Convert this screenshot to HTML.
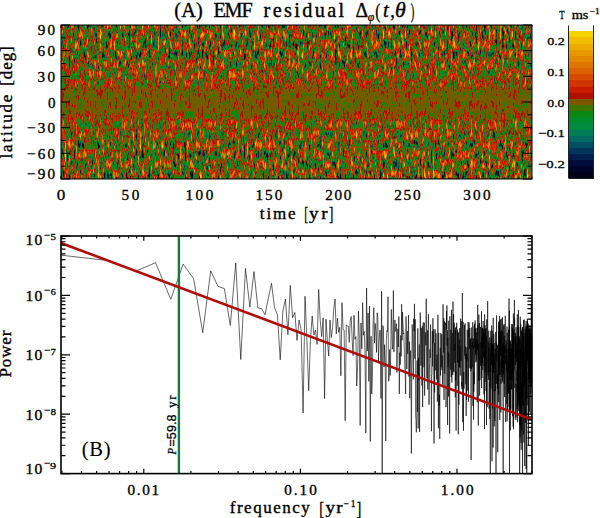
<!DOCTYPE html><html><head><meta charset="utf-8"><style>html,body{margin:0;padding:0;background:#fff;width:600px;height:518px;overflow:hidden}svg{display:block}text{font-family:"Liberation Serif",serif;fill:#000;stroke:#000}</style></head><body>
<svg width="600" height="518" viewBox="0 0 600 518">
<defs>
<linearGradient id="env" x1="0" y1="0" x2="0" y2="1"><stop offset="0.0000" stop-color="rgb(255,127,0)"/><stop offset="0.0111" stop-color="rgb(255,127,0)"/><stop offset="0.0222" stop-color="rgb(255,127,0)"/><stop offset="0.0333" stop-color="rgb(255,127,0)"/><stop offset="0.0444" stop-color="rgb(255,127,0)"/><stop offset="0.0556" stop-color="rgb(255,127,0)"/><stop offset="0.0667" stop-color="rgb(255,127,0)"/><stop offset="0.0778" stop-color="rgb(255,127,0)"/><stop offset="0.0889" stop-color="rgb(255,127,0)"/><stop offset="0.1000" stop-color="rgb(255,127,0)"/><stop offset="0.1111" stop-color="rgb(255,127,0)"/><stop offset="0.1222" stop-color="rgb(255,127,0)"/><stop offset="0.1333" stop-color="rgb(255,127,0)"/><stop offset="0.1444" stop-color="rgb(255,127,0)"/><stop offset="0.1556" stop-color="rgb(255,127,0)"/><stop offset="0.1667" stop-color="rgb(255,127,0)"/><stop offset="0.1778" stop-color="rgb(254,127,0)"/><stop offset="0.1889" stop-color="rgb(252,127,0)"/><stop offset="0.2000" stop-color="rgb(249,127,0)"/><stop offset="0.2111" stop-color="rgb(245,127,0)"/><stop offset="0.2222" stop-color="rgb(240,127,0)"/><stop offset="0.2333" stop-color="rgb(235,127,0)"/><stop offset="0.2444" stop-color="rgb(229,128,0)"/><stop offset="0.2556" stop-color="rgb(222,129,0)"/><stop offset="0.2667" stop-color="rgb(216,130,0)"/><stop offset="0.2778" stop-color="rgb(210,131,0)"/><stop offset="0.2889" stop-color="rgb(204,132,0)"/><stop offset="0.3000" stop-color="rgb(198,133,0)"/><stop offset="0.3111" stop-color="rgb(194,134,0)"/><stop offset="0.3222" stop-color="rgb(189,135,0)"/><stop offset="0.3333" stop-color="rgb(186,135,0)"/><stop offset="0.3444" stop-color="rgb(184,135,0)"/><stop offset="0.3556" stop-color="rgb(184,135,0)"/><stop offset="0.3667" stop-color="rgb(178,135,0)"/><stop offset="0.3778" stop-color="rgb(163,135,0)"/><stop offset="0.3889" stop-color="rgb(142,135,0)"/><stop offset="0.4000" stop-color="rgb(117,134,0)"/><stop offset="0.4111" stop-color="rgb(93,133,0)"/><stop offset="0.4222" stop-color="rgb(72,131,0)"/><stop offset="0.4333" stop-color="rgb(57,129,0)"/><stop offset="0.4444" stop-color="rgb(51,128,0)"/><stop offset="0.4556" stop-color="rgb(51,128,0)"/><stop offset="0.4667" stop-color="rgb(51,128,0)"/><stop offset="0.4778" stop-color="rgb(51,128,0)"/><stop offset="0.4889" stop-color="rgb(51,128,0)"/><stop offset="0.5000" stop-color="rgb(51,128,0)"/><stop offset="0.5111" stop-color="rgb(51,128,0)"/><stop offset="0.5222" stop-color="rgb(51,128,0)"/><stop offset="0.5333" stop-color="rgb(51,128,0)"/><stop offset="0.5444" stop-color="rgb(51,128,0)"/><stop offset="0.5556" stop-color="rgb(51,128,0)"/><stop offset="0.5667" stop-color="rgb(57,129,0)"/><stop offset="0.5778" stop-color="rgb(72,131,0)"/><stop offset="0.5889" stop-color="rgb(93,133,0)"/><stop offset="0.6000" stop-color="rgb(117,134,0)"/><stop offset="0.6111" stop-color="rgb(142,135,0)"/><stop offset="0.6222" stop-color="rgb(163,135,0)"/><stop offset="0.6333" stop-color="rgb(178,135,0)"/><stop offset="0.6444" stop-color="rgb(184,135,0)"/><stop offset="0.6556" stop-color="rgb(184,135,0)"/><stop offset="0.6667" stop-color="rgb(186,135,0)"/><stop offset="0.6778" stop-color="rgb(189,135,0)"/><stop offset="0.6889" stop-color="rgb(194,134,0)"/><stop offset="0.7000" stop-color="rgb(198,133,0)"/><stop offset="0.7111" stop-color="rgb(204,132,0)"/><stop offset="0.7222" stop-color="rgb(210,131,0)"/><stop offset="0.7333" stop-color="rgb(216,130,0)"/><stop offset="0.7444" stop-color="rgb(222,129,0)"/><stop offset="0.7556" stop-color="rgb(229,128,0)"/><stop offset="0.7667" stop-color="rgb(235,127,0)"/><stop offset="0.7778" stop-color="rgb(240,127,0)"/><stop offset="0.7889" stop-color="rgb(245,127,0)"/><stop offset="0.8000" stop-color="rgb(249,127,0)"/><stop offset="0.8111" stop-color="rgb(252,127,0)"/><stop offset="0.8222" stop-color="rgb(254,127,0)"/><stop offset="0.8333" stop-color="rgb(255,127,0)"/><stop offset="0.8444" stop-color="rgb(255,127,0)"/><stop offset="0.8556" stop-color="rgb(255,127,0)"/><stop offset="0.8667" stop-color="rgb(255,127,0)"/><stop offset="0.8778" stop-color="rgb(255,127,0)"/><stop offset="0.8889" stop-color="rgb(255,127,0)"/><stop offset="0.9000" stop-color="rgb(255,127,0)"/><stop offset="0.9111" stop-color="rgb(255,127,0)"/><stop offset="0.9222" stop-color="rgb(255,127,0)"/><stop offset="0.9333" stop-color="rgb(255,127,0)"/><stop offset="0.9444" stop-color="rgb(255,127,0)"/><stop offset="0.9556" stop-color="rgb(255,127,0)"/><stop offset="0.9667" stop-color="rgb(255,127,0)"/><stop offset="0.9778" stop-color="rgb(255,127,0)"/><stop offset="0.9889" stop-color="rgb(255,127,0)"/><stop offset="1.0000" stop-color="rgb(255,127,0)"/></linearGradient>
<filter id="hm" x="0" y="0" width="1" height="1" color-interpolation-filters="sRGB">
<feTurbulence type="fractalNoise" baseFrequency="0.45 0.1" numOctaves="2" seed="11" result="n"/>
<feColorMatrix in="n" type="matrix" values="1 0 0 0 0 1 0 0 0 0 1 0 0 0 0 0 0 0 0 1" result="g"/>
<feComponentTransfer in="g" result="s"><feFuncR type="table" tableValues="0.0000 0.0000 0.0000 0.0000 0.0000 0.0000 0.0000 0.0000 0.0000 0.0148 0.0359 0.0570 0.0781 0.0992 0.1203 0.1414 0.1625 0.1836 0.2047 0.2258 0.2469 0.2680 0.2891 0.3102 0.3312 0.3523 0.3734 0.3945 0.4156 0.4367 0.4578 0.4789 0.5000 0.5211 0.5422 0.5633 0.5844 0.6055 0.6266 0.6477 0.6687 0.6898 0.7109 0.7320 0.7531 0.7742 0.7953 0.8164 0.8375 0.8586 0.8797 0.9008 0.9219 0.9430 0.9641 0.9852 1.0000 1.0000 1.0000 1.0000 1.0000 1.0000 1.0000 1.0000 1.0000"/><feFuncG type="table" tableValues="0.0000 0.0000 0.0000 0.0000 0.0000 0.0000 0.0000 0.0000 0.0000 0.0148 0.0359 0.0570 0.0781 0.0992 0.1203 0.1414 0.1625 0.1836 0.2047 0.2258 0.2469 0.2680 0.2891 0.3102 0.3312 0.3523 0.3734 0.3945 0.4156 0.4367 0.4578 0.4789 0.5000 0.5211 0.5422 0.5633 0.5844 0.6055 0.6266 0.6477 0.6687 0.6898 0.7109 0.7320 0.7531 0.7742 0.7953 0.8164 0.8375 0.8586 0.8797 0.9008 0.9219 0.9430 0.9641 0.9852 1.0000 1.0000 1.0000 1.0000 1.0000 1.0000 1.0000 1.0000 1.0000"/><feFuncB type="table" tableValues="0.0000 0.0000 0.0000 0.0000 0.0000 0.0000 0.0000 0.0000 0.0000 0.0148 0.0359 0.0570 0.0781 0.0992 0.1203 0.1414 0.1625 0.1836 0.2047 0.2258 0.2469 0.2680 0.2891 0.3102 0.3312 0.3523 0.3734 0.3945 0.4156 0.4367 0.4578 0.4789 0.5000 0.5211 0.5422 0.5633 0.5844 0.6055 0.6266 0.6477 0.6687 0.6898 0.7109 0.7320 0.7531 0.7742 0.7953 0.8164 0.8375 0.8586 0.8797 0.9008 0.9219 0.9430 0.9641 0.9852 1.0000 1.0000 1.0000 1.0000 1.0000 1.0000 1.0000 1.0000 1.0000"/></feComponentTransfer>
<feColorMatrix in="SourceGraphic" type="matrix" values="1 0 0 0 0 1 0 0 0 0 1 0 0 0 0 0 0 0 0 1" result="amp"/>
<feColorMatrix in="SourceGraphic" type="matrix" values="0 1 0 0 0 0 1 0 0 0 0 1 0 0 0 0 0 0 0 1" result="mo"/>
<feComposite in="s" in2="amp" operator="arithmetic" k1="1" k2="0" k3="-0.5" k4="0.5" result="m0"/>
<feComposite in="m0" in2="mo" operator="arithmetic" k1="0" k2="1" k3="1" k4="-0.5" result="m"/>
<feComponentTransfer in="m"><feFuncR type="discrete" tableValues="0.0000 0.0000 0.0000 0.0000 0.0000 0.0000 0.0000 0.0000 0.0000 0.0588 0.0392 0.4235 0.4784 0.6863 0.7843 0.8157 0.8392 0.8588 0.8784 0.8941 0.9098 0.9255 0.9451 0.9647"/><feFuncG type="discrete" tableValues="0.0000 0.0196 0.0471 0.0863 0.1373 0.2275 0.3529 0.4706 0.5412 0.5490 0.5333 0.3765 0.3451 0.0627 0.1020 0.2039 0.2980 0.3765 0.4549 0.5294 0.6000 0.6667 0.7451 0.8235"/><feFuncB type="discrete" tableValues="0.0588 0.0980 0.1373 0.1765 0.2157 0.2431 0.2549 0.2353 0.1765 0.1373 0.0588 0.0000 0.0000 0.0000 0.0000 0.0000 0.0000 0.0000 0.0000 0.0000 0.0000 0.0000 0.0000 0.0000"/></feComponentTransfer>
<feGaussianBlur stdDeviation="0.6"/>
</filter>
<clipPath id="pc"><rect x="61" y="236" width="471" height="237.60000000000002"/></clipPath>
</defs>
<rect x="61" y="25" width="471" height="154" fill="#5a5a1e"/>
<rect x="61" y="25" width="471" height="154" fill="url(#env)" filter="url(#hm)"/>
<rect x="61" y="25" width="471" height="154" fill="none" stroke="#000" stroke-width="1"/>
<path d="M61 179.00h9M532 179.00h-9M61 166.17h4.5M532 166.17h-4.5M61 153.33h9M532 153.33h-9M61 140.50h4.5M532 140.50h-4.5M61 127.67h9M532 127.67h-9M61 114.83h4.5M532 114.83h-4.5M61 102.00h9M532 102.00h-9M61 89.17h4.5M532 89.17h-4.5M61 76.33h9M532 76.33h-9M61 63.50h4.5M532 63.50h-4.5M61 50.67h9M532 50.67h-9M61 37.83h4.5M532 37.83h-4.5M61 25.00h9M532 25.00h-9M61.00 179v-3M61.00 25v3M74.85 179v-1.5M74.85 25v1.5M88.71 179v-1.5M88.71 25v1.5M102.56 179v-1.5M102.56 25v1.5M116.41 179v-1.5M116.41 25v1.5M130.26 179v-3M130.26 25v3M144.12 179v-1.5M144.12 25v1.5M157.97 179v-1.5M157.97 25v1.5M171.82 179v-1.5M171.82 25v1.5M185.68 179v-1.5M185.68 25v1.5M199.53 179v-3M199.53 25v3M213.38 179v-1.5M213.38 25v1.5M227.24 179v-1.5M227.24 25v1.5M241.09 179v-1.5M241.09 25v1.5M254.94 179v-1.5M254.94 25v1.5M268.79 179v-3M268.79 25v3M282.65 179v-1.5M282.65 25v1.5M296.50 179v-1.5M296.50 25v1.5M310.35 179v-1.5M310.35 25v1.5M324.21 179v-1.5M324.21 25v1.5M338.06 179v-3M338.06 25v3M351.91 179v-1.5M351.91 25v1.5M365.76 179v-1.5M365.76 25v1.5M379.62 179v-1.5M379.62 25v1.5M393.47 179v-1.5M393.47 25v1.5M407.32 179v-3M407.32 25v3M421.18 179v-1.5M421.18 25v1.5M435.03 179v-1.5M435.03 25v1.5M448.88 179v-1.5M448.88 25v1.5M462.74 179v-1.5M462.74 25v1.5M476.59 179v-3M476.59 25v3M490.44 179v-1.5M490.44 25v1.5M504.29 179v-1.5M504.29 25v1.5M518.15 179v-1.5M518.15 25v1.5M532.00 179v-1.5M532.00 25v1.5" stroke="#000" stroke-width="1" fill="none"/>
<rect x="568.5" y="172.16" width="25.0" height="6.44" fill="#000019" shape-rendering="crispEdges"/>
<rect x="568.5" y="166.03" width="25.0" height="6.44" fill="#00032a" shape-rendering="crispEdges"/>
<rect x="568.5" y="159.89" width="25.0" height="6.44" fill="#000c3c" shape-rendering="crispEdges"/>
<rect x="568.5" y="153.75" width="25.0" height="6.44" fill="#001e4b" shape-rendering="crispEdges"/>
<rect x="568.5" y="147.61" width="25.0" height="6.44" fill="#003458" shape-rendering="crispEdges"/>
<rect x="568.5" y="141.48" width="25.0" height="6.44" fill="#004e60" shape-rendering="crispEdges"/>
<rect x="568.5" y="135.34" width="25.0" height="6.44" fill="#006962" shape-rendering="crispEdges"/>
<rect x="568.5" y="129.20" width="25.0" height="6.44" fill="#007e5a" shape-rendering="crispEdges"/>
<rect x="568.5" y="123.06" width="25.0" height="6.44" fill="#008a44" shape-rendering="crispEdges"/>
<rect x="568.5" y="116.93" width="25.0" height="6.44" fill="#008c2d" shape-rendering="crispEdges"/>
<rect x="568.5" y="110.79" width="25.0" height="6.44" fill="#0a880f" shape-rendering="crispEdges"/>
<rect x="568.5" y="104.65" width="25.0" height="6.44" fill="#3c7600" shape-rendering="crispEdges"/>
<rect x="568.5" y="98.51" width="25.0" height="6.44" fill="#7a5800" shape-rendering="crispEdges"/>
<rect x="568.5" y="92.38" width="25.0" height="6.44" fill="#af1000" shape-rendering="crispEdges"/>
<rect x="568.5" y="86.24" width="25.0" height="6.44" fill="#c81a00" shape-rendering="crispEdges"/>
<rect x="568.5" y="80.10" width="25.0" height="6.44" fill="#d03400" shape-rendering="crispEdges"/>
<rect x="568.5" y="73.96" width="25.0" height="6.44" fill="#d64c00" shape-rendering="crispEdges"/>
<rect x="568.5" y="67.83" width="25.0" height="6.44" fill="#db6000" shape-rendering="crispEdges"/>
<rect x="568.5" y="61.69" width="25.0" height="6.44" fill="#e07400" shape-rendering="crispEdges"/>
<rect x="568.5" y="55.55" width="25.0" height="6.44" fill="#e48700" shape-rendering="crispEdges"/>
<rect x="568.5" y="49.41" width="25.0" height="6.44" fill="#e89900" shape-rendering="crispEdges"/>
<rect x="568.5" y="43.28" width="25.0" height="6.44" fill="#ecaa00" shape-rendering="crispEdges"/>
<rect x="568.5" y="37.14" width="25.0" height="6.44" fill="#f1be00" shape-rendering="crispEdges"/>
<rect x="568.5" y="31.00" width="25.0" height="6.44" fill="#f6d200" shape-rendering="crispEdges"/>
<path d="M568.5 25.5V178.3H593.5V25.5" stroke="#222" stroke-width="1" fill="none"/>
<g clip-path="url(#pc)"><path d="M61.30 255.20 L108.44 260.60 L136.02 271.00 L155.58 262.70 L170.76 299.30 L183.16 264.10 L193.64 278.70 L202.72 332.70 L210.73 270.80 L217.90 286.30 L224.38 288.60 L230.30 325.50 L235.74 263.10 L240.78 359.50 L245.48 268.50 L249.87 307.10 L253.99 271.60 L257.88 307.90 L261.55 308.70 L265.04 314.80 L268.36 298.00 L271.52 283.30 L274.55 307.70 L277.44 315.00 L280.22 359.80 L282.88 311.00 L285.45 299.00 L287.92 334.70 L290.31 285.40 L292.62 317.80 L294.85 312.40 L297.01 340.50 L299.10 320.00 L301.13 330.00 L303.10 413.00 L305.02 296.20 L306.88 340.00 L308.69 390.70 L310.46 340.00 L312.18 316.00 L313.86 335.00 L315.50 330.00 L317.10 344.40 L318.66 289.50 L320.19 320.00 L321.69 336.70 L323.15 317.80 L324.58 398.50 L325.98 319.30 L327.36 340.00 L328.71 356.00 L330.03 320.00 L331.32 337.60 L332.59 327.53 L333.84 308.08 L335.07 298.99 L336.27 333.84 L337.45 318.25 L338.62 332.37 L339.76 327.36 L340.88 375.78 L341.99 302.61 L343.08 329.62 L344.15 330.12 L345.20 420.73 L346.24 325.05 L347.26 325.84 L348.27 326.00 L349.26 342.38 L350.24 320.04 L351.21 316.55 L352.16 339.57 L353.10 355.65 L354.02 315.17 L354.93 339.28 L355.84 336.63 L356.72 386.03 L357.60 365.88 L358.47 311.30 L359.32 338.16 L360.17 425.51 L361.00 323.01 L361.83 348.79 L362.64 302.71 L363.45 335.22 L364.24 331.57 L365.03 352.65 L365.81 433.00 L366.57 287.99 L367.33 351.08 L368.09 312.95 L368.83 381.28 L369.56 305.98 L370.29 441.54 L371.01 336.21 L371.72 394.02 L372.43 375.95 L373.13 320.68 L373.82 307.66 L374.50 342.93 L375.18 323.38 L375.85 331.12 L376.51 352.40 L377.17 312.71 L377.82 317.82 L378.46 361.36 L379.10 342.05 L379.73 330.30 L380.36 330.42 L380.98 398.42 L381.60 291.23 L382.21 474.50 L382.81 325.63 L383.41 328.06 L384.01 367.03 L384.59 344.70 L385.18 360.29 L385.76 441.09 L386.33 340.53 L386.90 330.41 L387.46 331.62 L388.02 296.72 L388.58 381.32 L389.13 378.22 L389.68 349.43 L390.22 375.57 L390.76 351.04 L391.29 309.33 L391.82 328.31 L392.34 349.24 L392.86 343.56 L393.38 290.59 L393.90 351.83 L394.40 333.15 L394.91 320.09 L395.41 330.76 L395.91 331.60 L396.41 323.69 L396.90 372.53 L397.38 349.72 L397.87 328.73 L398.35 346.98 L398.83 316.55 L399.30 393.89 L399.77 352.68 L400.24 364.62 L400.70 335.38 L401.16 356.35 L401.62 304.29 L402.08 340.23 L402.53 312.14 L402.98 324.03 L403.42 334.02 L403.87 332.74 L404.31 351.29 L404.74 366.95 L405.18 372.41 L405.61 394.06 L406.04 316.43 L406.47 349.85 L406.89 369.04 L407.31 331.02 L407.73 353.83 L408.14 340.48 L408.56 315.16 L408.97 376.58 L409.38 341.75 L409.78 398.21 L410.19 361.59 L410.59 350.58 L410.99 372.15 L411.38 453.43 L411.78 366.50 L412.17 324.47 L412.56 332.35 L412.95 354.36 L413.33 379.35 L413.72 318.72 L414.10 331.22 L414.48 303.88 L414.85 358.78 L415.23 319.24 L415.60 414.98 L415.97 420.78 L416.34 432.32 L416.71 414.90 L417.07 360.49 L417.43 411.80 L417.79 328.33 L418.15 428.47 L418.51 357.73 L418.86 379.85 L419.22 344.28 L419.57 431.87 L419.92 355.29 L420.27 312.57 L420.61 337.04 L420.96 365.61 L421.30 327.95 L421.64 349.14 L421.98 385.64 L422.32 325.94 L422.65 407.19 L422.99 328.00 L423.32 322.45 L423.65 340.50 L423.98 367.32 L424.31 322.65 L424.63 395.55 L424.96 361.22 L425.28 332.37 L425.60 341.09 L425.92 345.21 L426.24 298.75 L426.56 347.29 L426.88 378.00 L427.19 352.37 L427.50 330.40 L427.81 389.58 L428.12 330.30 L428.43 314.22 L428.74 345.31 L429.04 404.81 L429.35 373.48 L429.65 362.53 L429.95 349.29 L430.25 357.92 L430.55 324.59 L430.85 342.16 L431.15 375.59 L431.44 431.26 L431.74 375.01 L432.03 374.76 L432.32 331.02 L432.61 366.39 L432.90 318.21 L433.19 343.22 L433.47 337.39 L433.76 329.21 L434.04 443.49 L434.32 343.17 L434.61 392.33 L434.89 344.26 L435.17 329.40 L435.44 357.19 L435.72 370.36 L436.00 333.35 L436.27 356.30 L436.54 379.44 L436.82 362.23 L437.09 354.69 L437.36 401.67 L437.63 344.13 L437.90 314.82 L438.16 360.78 L438.43 428.15 L438.70 332.89 L438.96 380.07 L439.22 405.96 L439.48 394.78 L439.75 438.76 L440.01 361.46 L440.27 347.70 L440.52 375.53 L440.78 333.13 L441.04 347.46 L441.29 367.35 L441.55 351.13 L441.80 334.23 L442.05 370.14 L442.30 355.60 L442.55 384.48 L442.80 371.62 L443.05 304.23 L443.30 345.72 L443.55 352.58 L443.79 318.13 L444.04 399.94 L444.28 326.39 L444.52 321.44 L444.77 373.67 L445.01 333.64 L445.25 325.34 L445.49 322.73 L445.73 341.12 L445.97 407.18 L446.20 400.28 L446.44 311.11 L446.68 329.42 L446.91 305.54 L447.15 345.82 L447.38 330.27 L447.61 425.02 L447.84 337.71 L448.07 367.06 L448.30 352.25 L448.53 396.58 L448.76 320.72 L448.99 349.52 L449.22 355.85 L449.44 355.17 L449.67 433.63 L449.89 316.25 L450.12 356.19 L450.34 368.33 L450.56 369.62 L450.79 329.64 L451.01 359.01 L451.23 377.03 L451.45 309.79 L451.67 355.45 L451.88 382.52 L452.10 334.82 L452.32 333.01 L452.54 360.87 L452.75 374.91 L452.97 301.60 L453.18 371.63 L453.39 363.80 L453.61 314.25 L453.82 365.73 L454.03 372.25 L454.24 322.82 L454.45 351.07 L454.66 343.79 L454.87 362.79 L455.08 329.95 L455.29 397.39 L455.49 327.63 L455.70 379.99 L455.91 370.92 L456.11 430.55 L456.31 326.71 L456.52 328.94 L456.72 322.69 L456.92 371.64 L457.13 385.99 L457.33 329.33 L457.53 362.27 L457.73 331.12 L457.93 362.35 L458.13 360.42 L458.33 434.31 L458.53 332.53 L458.72 369.10 L458.92 404.80 L459.12 339.56 L459.31 354.62 L459.51 367.01 L459.70 328.12 L459.90 367.85 L460.09 346.10 L460.28 375.64 L460.47 336.55 L460.67 318.55 L460.86 334.16 L461.05 361.06 L461.24 321.10 L461.43 343.15 L461.62 386.46 L461.81 382.07 L461.99 389.24 L462.18 331.42 L462.37 293.04 L462.56 330.17 L462.74 422.19 L462.93 348.88 L463.11 322.10 L463.30 355.73 L463.48 430.69 L463.66 372.58 L463.85 371.87 L464.03 388.71 L464.21 373.92 L464.39 324.90 L464.57 338.96 L464.76 355.46 L464.94 325.87 L465.11 323.52 L465.29 358.72 L465.47 346.38 L465.65 370.45 L465.83 384.21 L466.01 354.54 L466.18 416.03 L466.36 353.85 L466.54 400.03 L466.71 357.60 L466.89 347.33 L467.06 361.07 L467.23 329.73 L467.41 358.60 L467.58 357.52 L467.75 390.70 L467.93 347.98 L468.10 322.16 L468.27 324.70 L468.44 401.77 L468.61 330.08 L468.78 337.06 L468.95 327.68 L469.12 322.25 L469.29 342.52 L469.46 348.82 L469.63 327.82 L469.80 336.50 L469.96 368.28 L470.13 338.40 L470.30 367.51 L470.46 339.86 L470.63 355.94 L470.79 371.26 L470.96 366.88 L471.12 460.02 L471.29 327.55 L471.45 356.81 L471.61 368.92 L471.78 356.43 L471.94 337.65 L472.10 351.78 L472.26 367.33 L472.42 341.74 L472.58 346.31 L472.75 322.22 L472.91 405.88 L473.07 345.51 L473.23 348.83 L473.38 338.77 L473.54 419.69 L473.70 371.82 L473.86 391.80 L474.02 362.59 L474.17 325.81 L474.33 384.11 L474.49 340.68 L474.64 323.67 L474.80 345.99 L474.95 348.05 L475.11 320.39 L475.26 331.09 L475.42 354.45 L475.57 328.50 L475.73 355.04 L475.88 362.34 L476.03 343.06 L476.19 332.52 L476.34 361.27 L476.49 339.15 L476.64 349.49 L476.79 354.98 L476.94 327.92 L477.09 383.87 L477.24 402.22 L477.39 340.46 L477.54 350.08 L477.69 304.84 L477.84 345.92 L477.99 324.81 L478.14 356.21 L478.29 425.53 L478.44 343.65 L478.58 381.06 L478.73 361.89 L478.88 314.66 L479.02 358.68 L479.17 357.58 L479.32 360.27 L479.46 322.94 L479.61 395.60 L479.75 360.22 L479.90 380.18 L480.04 366.75 L480.18 342.25 L480.33 359.66 L480.47 326.86 L480.61 339.90 L480.76 365.87 L480.90 359.72 L481.04 364.56 L481.18 349.38 L481.32 332.97 L481.47 311.32 L481.61 388.00 L481.75 335.95 L481.89 377.98 L482.03 328.41 L482.17 341.58 L482.31 363.02 L482.45 348.72 L482.58 328.10 L482.72 369.92 L482.86 327.67 L483.00 347.93 L483.14 321.01 L483.28 332.66 L483.41 346.30 L483.55 357.68 L483.69 331.85 L483.82 329.43 L483.96 394.35 L484.09 332.86 L484.23 365.84 L484.37 350.62 L484.50 429.10 L484.64 314.30 L484.77 358.14 L484.90 344.41 L485.04 325.17 L485.17 349.77 L485.31 370.99 L485.44 372.46 L485.57 329.26 L485.70 369.50 L485.84 381.98 L485.97 328.02 L486.10 391.15 L486.23 336.19 L486.36 371.85 L486.50 424.97 L486.63 326.19 L486.76 319.37 L486.89 332.32 L487.02 360.91 L487.15 407.18 L487.28 376.43 L487.41 361.44 L487.54 330.35 L487.66 301.07 L487.79 367.68 L487.92 371.03 L488.05 375.34 L488.18 341.42 L488.31 362.55 L488.43 379.78 L488.56 369.43 L488.69 330.66 L488.81 372.02 L488.94 347.73 L489.07 408.67 L489.19 393.53 L489.32 387.16 L489.44 382.90 L489.57 386.11 L489.69 337.52 L489.82 418.96 L489.94 398.91 L490.07 366.94 L490.19 343.09 L490.32 472.96 L490.44 352.90 L490.56 364.50 L490.69 372.06 L490.81 330.66 L490.93 388.53 L491.06 363.58 L491.18 365.11 L491.30 342.64 L491.42 337.85 L491.54 365.10 L491.67 325.40 L491.79 338.31 L491.91 376.69 L492.03 461.15 L492.15 330.75 L492.27 335.76 L492.39 346.32 L492.51 408.57 L492.63 344.16 L492.75 364.24 L492.87 391.40 L492.99 345.97 L493.11 447.46 L493.23 317.83 L493.35 347.29 L493.46 361.07 L493.58 370.09 L493.70 373.05 L493.82 334.21 L493.94 341.25 L494.05 368.80 L494.17 343.01 L494.29 426.39 L494.40 360.69 L494.52 364.46 L494.64 353.59 L494.75 371.87 L494.87 421.03 L494.98 390.46 L495.10 386.94 L495.22 348.89 L495.33 387.22 L495.45 391.05 L495.56 344.64 L495.67 331.92 L495.79 338.90 L495.90 384.72 L496.02 497.33 L496.13 351.86 L496.25 341.91 L496.36 383.93 L496.47 342.24 L496.58 315.40 L496.70 360.99 L496.81 355.85 L496.92 344.28 L497.04 348.01 L497.15 347.49 L497.26 379.80 L497.37 378.26 L497.48 388.75 L497.59 373.96 L497.71 452.18 L497.82 344.97 L497.93 367.47 L498.04 380.71 L498.15 350.54 L498.26 368.34 L498.37 402.10 L498.48 355.80 L498.59 321.73 L498.70 394.55 L498.81 332.29 L498.92 358.84 L499.03 365.51 L499.13 352.59 L499.24 325.67 L499.35 335.61 L499.46 374.98 L499.57 316.13 L499.68 329.74 L499.78 419.97 L499.89 320.26 L500.00 352.76 L500.11 375.16 L500.21 319.34 L500.32 350.93 L500.43 331.74 L500.53 355.86 L500.64 337.29 L500.75 349.41 L500.85 412.52 L500.96 378.70 L501.07 383.73 L501.17 358.48 L501.28 372.92 L501.38 377.22 L501.49 330.34 L501.59 373.07 L501.70 320.41 L501.80 318.72 L501.91 351.77 L502.01 367.14 L502.12 362.20 L502.22 380.00 L502.32 371.05 L502.43 317.24 L502.53 364.72 L502.63 342.58 L502.74 382.23 L502.84 356.85 L502.94 331.84 L503.05 345.23 L503.15 507.63 L503.25 362.02 L503.35 369.19 L503.46 343.68 L503.56 374.50 L503.66 354.17 L503.76 325.47 L503.86 357.78 L503.96 369.33 L504.07 324.02 L504.17 361.15 L504.27 383.91 L504.37 335.93 L504.47 380.89 L504.57 397.08 L504.67 354.43 L504.77 348.43 L504.87 351.36 L504.97 346.30 L505.07 352.94 L505.17 343.61 L505.27 315.85 L505.37 352.21 L505.47 363.85 L505.57 355.27 L505.67 422.07 L505.77 363.22 L505.86 344.34 L505.96 357.18 L506.06 340.44 L506.16 348.09 L506.26 361.01 L506.35 357.83 L506.45 370.96 L506.55 349.65 L506.65 368.33 L506.75 404.20 L506.84 333.87 L506.94 328.44 L507.04 326.57 L507.13 421.26 L507.23 332.93 L507.33 346.44 L507.42 391.92 L507.52 371.00 L507.62 368.72 L507.71 412.14 L507.81 360.70 L507.90 369.72 L508.00 369.51 L508.09 348.63 L508.19 393.87 L508.28 384.86 L508.38 377.83 L508.47 368.66 L508.57 329.78 L508.66 349.69 L508.76 392.79 L508.85 345.64 L508.95 341.83 L509.04 298.52 L509.14 406.84 L509.23 341.15 L509.32 352.37 L509.42 310.87 L509.51 510.76 L509.60 326.61 L509.70 379.09 L509.79 342.73 L509.88 357.25 L509.98 353.77 L510.07 385.41 L510.16 410.23 L510.25 383.49 L510.35 430.30 L510.44 340.74 L510.53 379.94 L510.62 348.04 L510.71 355.26 L510.81 380.22 L510.90 373.53 L510.99 409.61 L511.08 344.06 L511.17 362.27 L511.26 389.43 L511.35 379.18 L511.44 370.44 L511.53 359.57 L511.63 361.55 L511.72 323.93 L511.81 389.11 L511.90 348.94 L511.99 357.39 L512.08 373.97 L512.17 341.37 L512.26 333.78 L512.35 324.29 L512.44 375.55 L512.52 327.95 L512.61 367.58 L512.70 416.15 L512.79 330.20 L512.88 335.46 L512.97 381.23 L513.06 353.10 L513.15 426.70 L513.24 360.27 L513.32 340.65 L513.41 313.50 L513.50 429.31 L513.59 332.47 L513.68 343.52 L513.76 418.75 L513.85 346.17 L513.94 360.55 L514.03 370.32 L514.11 329.28 L514.20 345.28 L514.29 335.35 L514.38 299.85 L514.46 325.34 L514.55 325.14 L514.64 318.39 L514.72 330.72 L514.81 387.83 L514.90 355.15 L514.98 356.32 L515.07 354.76 L515.15 336.33 L515.24 348.97 L515.33 357.80 L515.41 332.90 L515.50 364.90 L515.58 353.96 L515.67 352.95 L515.75 350.58 L515.84 420.04 L515.92 383.96 L516.01 417.67 L516.09 327.08 L516.18 356.19 L516.26 342.72 L516.35 352.83 L516.43 359.41 L516.52 362.01 L516.60 360.42 L516.68 344.57 L516.77 335.77 L516.85 380.62 L516.94 370.16 L517.02 392.46 L517.10 378.11 L517.19 409.15 L517.27 323.18 L517.35 314.36 L517.44 367.37 L517.52 344.37 L517.60 422.19 L517.69 352.30 L517.77 325.49 L517.85 390.33 L517.93 406.39 L518.02 353.83 L518.10 339.16 L518.18 399.62 L518.26 364.68 L518.35 411.03 L518.43 309.85 L518.51 400.42 L518.59 374.52 L518.67 394.94 L518.75 327.13 L518.84 357.04 L518.92 362.80 L519.00 337.51 L519.08 341.54 L519.16 403.39 L519.24 355.75 L519.32 336.17 L519.40 368.36 L519.48 360.54 L519.57 422.58 L519.65 490.85 L519.73 420.63 L519.81 387.30 L519.89 424.85 L519.97 346.77 L520.05 339.78 L520.13 397.08 L520.21 437.30 L520.29 316.80 L520.37 333.92 L520.45 414.90 L520.53 348.52 L520.60 424.53 L520.68 364.96 L520.76 324.15 L520.84 352.82 L520.92 371.63 L521.00 442.84 L521.08 389.39 L521.16 449.76 L521.24 423.48 L521.32 381.87 L521.39 430.27 L521.47 393.71 L521.55 330.97 L521.63 353.09 L521.71 347.93 L521.78 391.47 L521.86 370.74 L521.94 344.10 L522.02 364.33 L522.10 329.42 L522.17 398.14 L522.25 390.19 L522.33 362.10 L522.41 326.95 L522.48 353.32 L522.56 495.52 L522.64 342.26 L522.71 405.39 L522.79 393.17 L522.87 327.70 L522.94 357.27 L523.02 333.64 L523.10 405.44 L523.17 367.25 L523.25 434.51 L523.33 360.06 L523.40 345.88 L523.48 378.09 L523.56 320.01 L523.63 381.50 L523.71 361.52 L523.78 346.22 L523.86 442.53 L523.93 382.98 L524.01 364.80 L524.09 353.57 L524.16 319.56 L524.24 322.38 L524.31 349.72 L524.39 386.00 L524.46 365.57 L524.54 375.77 L524.61 364.32 L524.69 466.04 L524.76 389.61 L524.84 335.54 L524.91 333.32 L524.98 419.42 L525.06 348.21 L525.13 383.30 L525.21 337.81 L525.28 329.01 L525.36 340.31 L525.43 374.87 L525.50 422.84 L525.58 351.07 L525.65 335.23 L525.72 367.38 L525.80 327.39 L525.87 326.55 L525.94 377.57 L526.02 321.06 L526.09 469.10 L526.16 344.79 L526.24 370.20 L526.31 398.91 L526.38 345.55 L526.46 326.51 L526.53 395.18 L526.60 352.80 L526.67 346.06 L526.75 472.87 L526.82 373.25 L526.89 398.13 L526.96 324.83 L527.04 357.15 L527.11 405.26 L527.18 368.99 L527.25 318.86 L527.32 360.34 L527.40 350.36 L527.47 320.82 L527.54 350.55 L527.61 353.57 L527.68 345.54 L527.75 354.70 L527.83 322.87 L527.90 359.23 L527.97 324.14 L528.04 343.69 L528.11 363.55 L528.18 325.16 L528.25 420.11 L528.32 336.35 L528.39 345.32 L528.47 360.83 L528.54 445.71 L528.61 346.65 L528.68 345.31 L528.75 357.74 L528.82 379.03 L528.89 355.55 L528.96 347.30 L529.03 339.25 L529.10 329.54 L529.17 365.88 L529.24 327.50 L529.31 379.22 L529.38 328.61 L529.45 360.29 L529.52 361.00 L529.59 344.29 L529.66 411.84 L529.73 330.00 L529.80 360.50 L529.86 382.47 L529.93 348.07 L530.00 325.13 L530.07 330.91 L530.14 400.32 L530.21 413.54 L530.28 344.30 L530.35 372.30 L530.42 350.13 L530.49 332.64 L530.55 380.06 L530.62 342.57 L530.69 379.52 L530.76 393.68 L530.83 352.08 L530.90 327.55 L530.96 348.69 L531.03 334.07 L531.10 353.71 L531.17 386.68 L531.24 368.58 L531.30 303.82 L531.37 386.24 L531.44 349.30 L531.51 365.60 L531.57 338.16 L531.64 361.85 L531.71 386.83 L531.78 335.57" stroke="#000" stroke-width="0.6" fill="none"/>
<line x1="178.9" y1="236" x2="178.9" y2="473.6" stroke="#157d3c" stroke-width="2.4"/>
<line x1="61" y1="243" x2="532" y2="419.6" stroke="#b00c0a" stroke-width="2.6"/></g>
<rect x="61" y="236" width="471" height="237.6" fill="none" stroke="#000" stroke-width="1.6"/>
<path d="M61.92 473.6v-2.6M61.92 236v2.6M81.48 473.6v-2.6M81.48 236v2.6M96.66 473.6v-2.6M96.66 236v2.6M109.06 473.6v-2.6M109.06 236v2.6M119.54 473.6v-2.6M119.54 236v2.6M128.62 473.6v-2.6M128.62 236v2.6M136.63 473.6v-2.6M136.63 236v2.6M143.80 473.6v-4.8M143.80 236v4.8M190.94 473.6v-2.6M190.94 236v2.6M218.52 473.6v-2.6M218.52 236v2.6M238.08 473.6v-2.6M238.08 236v2.6M253.26 473.6v-2.6M253.26 236v2.6M265.66 473.6v-2.6M265.66 236v2.6M276.14 473.6v-2.6M276.14 236v2.6M285.22 473.6v-2.6M285.22 236v2.6M293.23 473.6v-2.6M293.23 236v2.6M300.40 473.6v-4.8M300.40 236v4.8M347.54 473.6v-2.6M347.54 236v2.6M375.12 473.6v-2.6M375.12 236v2.6M394.68 473.6v-2.6M394.68 236v2.6M409.86 473.6v-2.6M409.86 236v2.6M422.26 473.6v-2.6M422.26 236v2.6M432.74 473.6v-2.6M432.74 236v2.6M441.82 473.6v-2.6M441.82 236v2.6M449.83 473.6v-2.6M449.83 236v2.6M457.00 473.6v-4.8M457.00 236v4.8M504.14 473.6v-2.6M504.14 236v2.6M531.72 473.6v-2.6M531.72 236v2.6M61 473.60h9M532 473.60h-9M61 455.72h4.5M532 455.72h-4.5M61 445.26h4.5M532 445.26h-4.5M61 437.84h4.5M532 437.84h-4.5M61 432.08h4.5M532 432.08h-4.5M61 427.38h4.5M532 427.38h-4.5M61 423.40h4.5M532 423.40h-4.5M61 419.96h4.5M532 419.96h-4.5M61 416.92h4.5M532 416.92h-4.5M61 414.20h9M532 414.20h-9M61 396.32h4.5M532 396.32h-4.5M61 385.86h4.5M532 385.86h-4.5M61 378.44h4.5M532 378.44h-4.5M61 372.68h4.5M532 372.68h-4.5M61 367.98h4.5M532 367.98h-4.5M61 364.00h4.5M532 364.00h-4.5M61 360.56h4.5M532 360.56h-4.5M61 357.52h4.5M532 357.52h-4.5M61 354.80h9M532 354.80h-9M61 336.92h4.5M532 336.92h-4.5M61 326.46h4.5M532 326.46h-4.5M61 319.04h4.5M532 319.04h-4.5M61 313.28h4.5M532 313.28h-4.5M61 308.58h4.5M532 308.58h-4.5M61 304.60h4.5M532 304.60h-4.5M61 301.16h4.5M532 301.16h-4.5M61 298.12h4.5M532 298.12h-4.5M61 295.40h9M532 295.40h-9M61 277.52h4.5M532 277.52h-4.5M61 267.06h4.5M532 267.06h-4.5M61 259.64h4.5M532 259.64h-4.5M61 253.88h4.5M532 253.88h-4.5M61 249.18h4.5M532 249.18h-4.5M61 245.20h4.5M532 245.20h-4.5M61 241.76h4.5M532 241.76h-4.5M61 238.72h4.5M532 238.72h-4.5M61 236.00h9M532 236.00h-9" stroke="#000" stroke-width="1.2" fill="none"/>
<g transform="translate(174.29,16.70) scale(1.0000,1)"><text x="0" y="0" font-size="20.30" letter-spacing="0.205" fill="#000" stroke-width="0.35">(A)</text></g>
<g transform="translate(213.39,16.70) scale(1.0000,1)"><text x="0" y="0" font-size="20.30" letter-spacing="-1.198" fill="#000" stroke-width="0.35">EMF</text></g>
<g transform="translate(263.59,16.70) scale(1.0000,1)"><text x="0" y="0" font-size="20.30" letter-spacing="2.352" fill="#000" stroke-width="0.35">residual</text></g>
<g transform="translate(355.39,17.00) scale(0.9658,1)"><text x="0" y="0" font-size="20.30" letter-spacing="0.000" fill="#000" stroke-width="0.35">Δ</text></g>
<g transform="translate(367.64,20.60) scale(0.8792,1)"><text x="0" y="0" font-size="13.50" letter-spacing="0.000" font-style="italic" fill="#000" stroke-width="0.28">φ</text></g>
<g transform="translate(375.29,17.70) scale(0.7196,1)"><text x="0" y="0" font-size="21.80" letter-spacing="0.000" fill="#000" stroke-width="0.35">(</text></g>
<g transform="translate(383.07,16.70) scale(1.0162,1)"><text x="0" y="0" font-size="20.30" letter-spacing="0.000" font-style="italic" fill="#000" stroke-width="0.35">t</text></g>
<g transform="translate(390.33,16.70) scale(0.9060,1)"><text x="0" y="0" font-size="20.30" letter-spacing="0.000" fill="#000" stroke-width="0.35">,</text></g>
<g transform="translate(394.90,16.70) scale(1.0832,1)"><text x="0" y="0" font-size="20.30" letter-spacing="0.000" font-style="italic" fill="#000" stroke-width="0.35">θ</text></g>
<g transform="translate(410.72,17.70) scale(0.4912,1)"><text x="0" y="0" font-size="21.80" letter-spacing="0.000" fill="#000" stroke-width="0.35">)</text></g>
<g transform="translate(37.74,35.35) scale(1.0000,1)"><text x="0" y="0" font-size="15.20" letter-spacing="2.264" fill="#000" stroke-width="0.35">90</text></g>
<g transform="translate(37.59,56.15) scale(1.0000,1)"><text x="0" y="0" font-size="15.20" letter-spacing="2.416" fill="#000" stroke-width="0.35">60</text></g>
<g transform="translate(37.52,81.85) scale(1.0000,1)"><text x="0" y="0" font-size="15.20" letter-spacing="2.492" fill="#000" stroke-width="0.35">30</text></g>
<g transform="translate(47.88,107.55) scale(0.9834,1)"><text x="0" y="0" font-size="15.20" letter-spacing="0.000" fill="#000" stroke-width="0.35">0</text></g>
<g transform="translate(27.04,133.15) scale(1.0000,1)"><text x="0" y="0" font-size="15.20" letter-spacing="2.190" fill="#000" stroke-width="0.35">−30</text></g>
<g transform="translate(27.04,158.65) scale(1.0000,1)"><text x="0" y="0" font-size="15.20" letter-spacing="2.190" fill="#000" stroke-width="0.35">−60</text></g>
<g transform="translate(27.04,178.65) scale(1.0000,1)"><text x="0" y="0" font-size="15.20" letter-spacing="2.190" fill="#000" stroke-width="0.35">−90</text></g>
<g transform="translate(56.81,200.30) scale(1.1239,1)"><text x="0" y="0" font-size="15.20" letter-spacing="0.000" fill="#000" stroke-width="0.35">0</text></g>
<g transform="translate(121.55,200.30) scale(1.0000,1)"><text x="0" y="0" font-size="15.20" letter-spacing="2.720" fill="#000" stroke-width="0.35">50</text></g>
<g transform="translate(185.43,200.30) scale(1.0000,1)"><text x="0" y="0" font-size="15.20" letter-spacing="2.550" fill="#000" stroke-width="0.35">100</text></g>
<g transform="translate(255.48,200.30) scale(1.0000,1)"><text x="0" y="0" font-size="15.20" letter-spacing="2.050" fill="#000" stroke-width="0.35">150</text></g>
<g transform="translate(325.15,200.30) scale(1.0000,1)"><text x="0" y="0" font-size="15.20" letter-spacing="1.746" fill="#000" stroke-width="0.35">200</text></g>
<g transform="translate(394.21,200.30) scale(1.0000,1)"><text x="0" y="0" font-size="15.20" letter-spacing="1.746" fill="#000" stroke-width="0.35">250</text></g>
<g transform="translate(463.27,200.30) scale(1.0000,1)"><text x="0" y="0" font-size="15.20" letter-spacing="2.246" fill="#000" stroke-width="0.35">300</text></g>
<g transform="translate(259.83,219.10) scale(1.0000,1)"><text x="0" y="0" font-size="17.00" letter-spacing="1.835" fill="#000" stroke-width="0.35">time</text></g>
<g transform="translate(304.27,220.10) scale(0.6015,1)"><text x="0" y="0" font-size="18.90" letter-spacing="0.000" fill="#000" stroke-width="0.35">[</text></g>
<g transform="translate(309.01,219.10) scale(1.1200,1)"><text x="0" y="0" font-size="17.00" letter-spacing="2.482" fill="#000" stroke-width="0.35">yr</text></g>
<g transform="translate(329.06,220.10) scale(0.6849,1)"><text x="0" y="0" font-size="18.90" letter-spacing="0.000" fill="#000" stroke-width="0.35">]</text></g>
<g transform="translate(12.40,158.54) rotate(-90) scale(1.0000,1)"><text x="0" y="0" font-size="17.00" letter-spacing="1.848" fill="#000" stroke-width="0.35">latitude</text></g>
<g transform="translate(12.40,85.67) rotate(-90) scale(1.0000,1)"><text x="0" y="0" font-size="17.00" letter-spacing="0.870" fill="#000" stroke-width="0.35">[deg]</text></g>
<g transform="translate(547.22,45.15) scale(1.2539,1)"><text x="0" y="0" font-size="11.20" letter-spacing="0.000" fill="#000" stroke-width="0.28">0.2</text></g>
<g transform="translate(547.22,75.87) scale(1.2593,1)"><text x="0" y="0" font-size="11.20" letter-spacing="0.000" fill="#000" stroke-width="0.28">0.1</text></g>
<g transform="translate(547.23,106.59) scale(1.2378,1)"><text x="0" y="0" font-size="11.20" letter-spacing="0.000" fill="#000" stroke-width="0.28">0.0</text></g>
<g transform="translate(538.04,137.31) scale(1.3206,1)"><text x="0" y="0" font-size="11.20" letter-spacing="0.000" fill="#000" stroke-width="0.28">−0.1</text></g>
<g transform="translate(538.04,168.03) scale(1.3167,1)"><text x="0" y="0" font-size="11.20" letter-spacing="0.000" fill="#000" stroke-width="0.28">−0.2</text></g>
<g transform="translate(559.36,19.25) scale(0.7284,1)"><text x="0" y="0" font-size="12.00" letter-spacing="0.000" fill="#000" stroke-width="0.28">T</text></g>
<g transform="translate(571.69,19.25) scale(1.2497,1)"><text x="0" y="0" font-size="11.50" letter-spacing="0.000" fill="#000" stroke-width="0.28">ms</text></g>
<g transform="translate(589.73,14.40) scale(1.2329,1)"><text x="0" y="0" font-size="7.50" letter-spacing="0.000" fill="#000" stroke-width="0.28">−1</text></g>
<g transform="translate(25.47,245.20) scale(1.0000,1)"><text x="0" y="0" font-size="15.60" letter-spacing="1.150" fill="#000" stroke-width="0.35">10</text></g>
<g transform="translate(44.20,237.70) scale(1.3255,1)"><text x="0" y="0" font-size="8.50" letter-spacing="0.000" fill="#000" stroke-width="0.28">−</text></g>
<g transform="translate(50.59,240.10) scale(1.3699,1)"><text x="0" y="0" font-size="8.00" letter-spacing="0.000" fill="#000" stroke-width="0.28">5</text></g>
<g transform="translate(25.47,300.50) scale(1.0000,1)"><text x="0" y="0" font-size="15.60" letter-spacing="1.150" fill="#000" stroke-width="0.35">10</text></g>
<g transform="translate(44.20,293.00) scale(1.3255,1)"><text x="0" y="0" font-size="8.50" letter-spacing="0.000" fill="#000" stroke-width="0.28">−</text></g>
<g transform="translate(50.84,295.40) scale(1.2743,1)"><text x="0" y="0" font-size="8.00" letter-spacing="0.000" fill="#000" stroke-width="0.28">6</text></g>
<g transform="translate(25.47,360.20) scale(1.0000,1)"><text x="0" y="0" font-size="15.60" letter-spacing="1.150" fill="#000" stroke-width="0.35">10</text></g>
<g transform="translate(44.20,352.70) scale(1.3255,1)"><text x="0" y="0" font-size="8.50" letter-spacing="0.000" fill="#000" stroke-width="0.28">−</text></g>
<g transform="translate(50.55,355.10) scale(1.3530,1)"><text x="0" y="0" font-size="8.00" letter-spacing="0.000" fill="#000" stroke-width="0.28">7</text></g>
<g transform="translate(25.47,420.20) scale(1.0000,1)"><text x="0" y="0" font-size="15.60" letter-spacing="1.150" fill="#000" stroke-width="0.35">10</text></g>
<g transform="translate(44.20,412.70) scale(1.3255,1)"><text x="0" y="0" font-size="8.50" letter-spacing="0.000" fill="#000" stroke-width="0.28">−</text></g>
<g transform="translate(50.83,415.10) scale(1.3046,1)"><text x="0" y="0" font-size="8.00" letter-spacing="0.000" fill="#000" stroke-width="0.28">8</text></g>
<g transform="translate(25.47,473.70) scale(1.0000,1)"><text x="0" y="0" font-size="15.60" letter-spacing="1.150" fill="#000" stroke-width="0.35">10</text></g>
<g transform="translate(44.20,466.20) scale(1.3255,1)"><text x="0" y="0" font-size="8.50" letter-spacing="0.000" fill="#000" stroke-width="0.28">−</text></g>
<g transform="translate(49.96,468.60) scale(1.5292,1)"><text x="0" y="0" font-size="8.00" letter-spacing="0.000" fill="#000" stroke-width="0.28">9</text></g>
<g transform="translate(127.39,495.20) scale(1.0000,1)"><text x="0" y="0" font-size="15.20" letter-spacing="1.707" fill="#000" stroke-width="0.35">0.01</text></g>
<g transform="translate(284.19,495.20) scale(1.0000,1)"><text x="0" y="0" font-size="15.20" letter-spacing="2.005" fill="#000" stroke-width="0.35">0.10</text></g>
<g transform="translate(440.71,495.20) scale(1.0000,1)"><text x="0" y="0" font-size="15.20" letter-spacing="2.100" fill="#000" stroke-width="0.35">1.00</text></g>
<g transform="translate(229.69,513.40) scale(1.0000,1)"><text x="0" y="0" font-size="17.00" letter-spacing="1.524" fill="#000" stroke-width="0.35">frequency</text></g>
<g transform="translate(319.34,514.80) scale(0.7250,1)"><text x="0" y="0" font-size="19.60" letter-spacing="0.000" fill="#000" stroke-width="0.35">[</text></g>
<g transform="translate(325.41,513.40) scale(1.1200,1)"><text x="0" y="0" font-size="17.00" letter-spacing="1.082" fill="#000" stroke-width="0.35">yr</text></g>
<g transform="translate(343.52,506.80) scale(1.0000,1)"><text x="0" y="0" font-size="9.60" letter-spacing="1.832" fill="#000" stroke-width="0.28">−1</text></g>
<g transform="translate(356.49,514.80) scale(0.7388,1)"><text x="0" y="0" font-size="19.60" letter-spacing="0.000" fill="#000" stroke-width="0.35">]</text></g>
<g transform="translate(11.20,377.51) rotate(-90) scale(1.0000,1)"><text x="0" y="0" font-size="17.00" letter-spacing="0.861" fill="#000" stroke-width="0.35">Power</text></g>
<g transform="translate(81.68,455.90) scale(1.0000,1)"><text x="0" y="0" font-size="20.50" letter-spacing="0.839" fill="#000" stroke-width="0.1">(B)</text></g>
<g transform="translate(176.00,454.56) rotate(-90) scale(0.8127,1)"><text x="0" y="0" font-size="13.00" letter-spacing="0.000" font-style="italic" fill="#000" stroke-width="0.28">P</text></g>
<g transform="translate(176.00,446.62) rotate(-90) scale(1.0000,1)"><text x="0" y="0" font-size="12.50" letter-spacing="0.125" style="font-family:'Liberation Sans',sans-serif" fill="#000" stroke-width="0.28">=59.8</text></g>
<g transform="translate(176.00,407.93) rotate(-90) scale(1.0000,1)"><text x="0" y="0" font-size="13.00" letter-spacing="1.605" fill="#000" stroke-width="0.28">yr</text></g>
</svg></body></html>
